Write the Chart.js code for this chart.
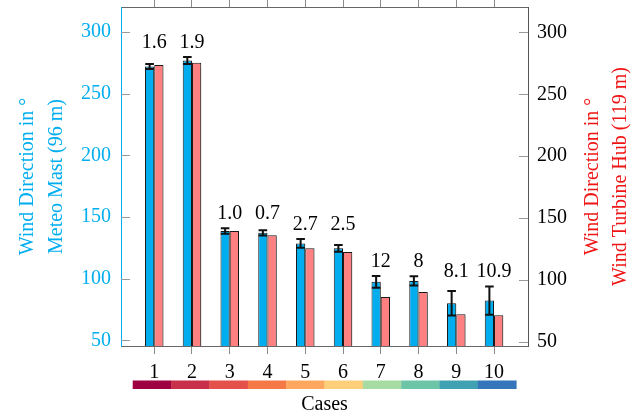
<!DOCTYPE html>
<html><head><meta charset="utf-8">
<script src="https://cdn.jsdelivr.net/npm/chart.js@4/dist/chart.umd.min.js"></script>
<style>html,body{margin:0;padding:0;background:#fff;}canvas{display:block;}</style>
</head><body>
<canvas id="c" width="638" height="415"></canvas>
<script>
// ---- data ----
const cases = [1, 2, 3, 4, 5, 6, 7, 8, 9, 10];
const mastDir = [272.1, 276.9, 138.6, 137.2, 128.6, 124.6, 97.4, 98.2, 80.1, 82.2];
const mastErr = [2.0, 2.8, 2.2, 2.1, 3.5, 2.7, 4.7, 3.7, 9.9, 11.4];
const hubDir = [273.6, 275.5, 139.6, 136.3, 125.8, 122.6, 86.3, 90.3, 72.5, 71.7];
const barLabels = ['1.6', '1.9', '1.0', '0.7', '2.7', '2.5', '12', '8', '8.1', '10.9'];
const yTickValues = [50, 100, 150, 200, 250, 300];
const caseColors = ['#9E0142', '#C8304A', '#E4504A', '#F57847', '#FDA85E', '#FECF7A', '#A6DBA2', '#6CC5A6', '#3FA1B2', '#3575BA'];

const FONT = "'Liberation Serif', 'Times New Roman', serif";
const CYAN = '#00AEEF';
const RED = '#F01515';

const decor = {
  id: 'decor',
  beforeDatasetsDraw(chart) {
    const ctx = chart.ctx;
    ctx.save();
    ctx.shadowColor = 'rgba(0,0,0,0.22)';
    ctx.shadowOffsetX = 2;
    ctx.shadowOffsetY = 1;
    ctx.shadowBlur = 1.5;
  },
  afterDatasetsDraw(chart) {
    const ctx = chart.ctx;
    ctx.restore();
    const xs = chart.scales.x, ys = chart.scales.y, ys1 = chart.scales.y1;
    const ca = chart.chartArea;
    // inward y ticks
    ctx.save();
    ctx.strokeStyle = '#9a9a9a';
    ctx.lineWidth = 1;
    yTickValues.forEach(v => {
      const py = Math.round(ys.getPixelForValue(v)) + 0.5;
      ctx.beginPath(); ctx.moveTo(ca.left, py); ctx.lineTo(ca.left + 9, py); ctx.stroke();
      const py1 = Math.round(ys1.getPixelForValue(v)) + 0.5;
      ctx.beginPath(); ctx.moveTo(ca.right - 9, py1); ctx.lineTo(ca.right, py1); ctx.stroke();
    });
    ctx.restore();
    // error bars
    const meta = chart.getDatasetMeta(0);
    ctx.save();
    ctx.strokeStyle = '#111';
    ctx.lineWidth = 2;
    cases.forEach((c, i) => {
      const bx = meta.data[i].x;
      const top = ys.getPixelForValue(mastDir[i] + mastErr[i]);
      const bot = ys.getPixelForValue(mastDir[i] - mastErr[i]);
      ctx.beginPath();
      ctx.moveTo(bx, top); ctx.lineTo(bx, bot);
      ctx.moveTo(bx - 4.3, top); ctx.lineTo(bx + 4.3, top);
      ctx.moveTo(bx - 4.3, bot); ctx.lineTo(bx + 4.3, bot);
      ctx.stroke();
    });
    ctx.restore();
    // value labels (aligned per pair of cases)
    ctx.save();
    ctx.fillStyle = '#000';
    ctx.font = '20px ' + FONT;
    ctx.textAlign = 'center';
    ctx.textBaseline = 'alphabetic';
    cases.forEach((c, i) => {
      const p = i - (i % 2);
      const a = Math.min(ys.getPixelForValue(mastDir[p] + mastErr[p]), ys.getPixelForValue(mastDir[p + 1] + mastErr[p + 1]));
      ctx.fillText(barLabels[i], xs.getPixelForValue(c), a - 9.5);
    });
    ctx.restore();
  },
  afterDraw(chart) {
    const ctx = chart.ctx;
    const xs = chart.scales.x;
    const ca = chart.chartArea;
    // colour strip for cases
    const start = 0.43, step = 1.016;
    const y0 = ca.bottom + 34.5, h = 8.5;
    caseColors.forEach((col, k) => {
      const a = xs.getPixelForValue(start + k * step);
      const b = xs.getPixelForValue(start + (k + 1) * step);
      ctx.fillStyle = col;
      ctx.fillRect(a, y0, b - a + 0.3, h);
    });
    // right axis title, read bottom-to-top
    ctx.save();
    ctx.fillStyle = RED;
    ctx.font = '20px ' + FONT;
    ctx.textAlign = 'center';
    ctx.textBaseline = 'middle';
    const cy = (ca.top + ca.bottom) / 2;
    [['Wind Direction in °', 64.5], ['Wind Turbine Hub (119 m)', 93]].forEach(([t, dx]) => {
      ctx.save();
      ctx.translate(ca.right + dx, cy);
      ctx.rotate(-Math.PI / 2);
      ctx.fillText(t, 0, 0);
      ctx.restore();
    });
    ctx.restore();
  }
};

const caseTicks = scale => { scale.ticks = cases.map(v => ({ value: v })); };
const yTicks = scale => { scale.ticks = yTickValues.map(v => ({ value: v })); };
const noPad = s => { s.paddingTop = 0; s.paddingBottom = 0; s.paddingLeft = 0; s.paddingRight = 0; };

new Chart(document.getElementById('c'), {
  type: 'bar',
  data: {
    datasets: [
      {
        label: 'Meteo Mast (96 m)',
        data: cases.map((c, i) => ({ x: c, y: mastDir[i] })),
        backgroundColor: CYAN, borderColor: '#1a1a1a', borderWidth: 1,
        yAxisID: 'y', categoryPercentage: 0.49, barPercentage: 1.0
      },
      {
        label: 'Wind Turbine Hub (119 m)',
        data: cases.map((c, i) => ({ x: c, y: hubDir[i] })),
        backgroundColor: '#FF8080', borderColor: '#1a1a1a', borderWidth: 1,
        yAxisID: 'y1', categoryPercentage: 0.49, barPercentage: 1.0
      }
    ]
  },
  options: {
    responsive: false,
    animation: false,
    devicePixelRatio: 1,
    layout: { padding: 0 },
    plugins: { legend: { display: false }, tooltip: { enabled: false } },
    scales: {
      x: {
        type: 'linear', position: 'bottom', min: 0.12, max: 10.9, offset: false,
        afterBuildTicks: caseTicks,
        afterFit: s => { s.height = 69; noPad(s); },
        grid: { offset: false, drawOnChartArea: false, drawTicks: true, tickLength: 8, color: '#8a8a8a' },
        border: { display: true, color: '#666', width: 1 },
        ticks: { color: '#000', font: { family: FONT, size: 20 }, padding: 7, maxRotation: 0, autoSkip: false,
                  callback: v => String(v) },
        title: { display: true, text: 'Cases', color: '#000', font: { family: FONT, size: 20, lineHeight: 1 }, padding: { top: 0, bottom: 0 } }
      },
      xTop: {
        type: 'linear', position: 'top', min: 0.12, max: 10.9, offset: false,
        afterBuildTicks: caseTicks,
        afterFit: s => { s.height = 7; noPad(s); },
        grid: { offset: false, drawOnChartArea: false, drawTicks: true, tickLength: 7, color: '#8a8a8a' },
        border: { display: true, color: '#666', width: 1 },
        ticks: { display: false }
      },
      y: {
        type: 'linear', position: 'left', min: 45.4, max: 320.3, beginAtZero: false,
        afterBuildTicks: yTicks,
        afterFit: s => { s.width = 121; noPad(s); },
        grid: { display: true, drawOnChartArea: false, drawTicks: false },
        border: { display: true, color: CYAN, width: 1 },
        ticks: { color: CYAN, font: { family: FONT, size: 20 }, padding: 10 },
        title: { display: true, text: ['Wind Direction in °', 'Meteo Mast (96 m)'], color: CYAN,
                 font: { family: FONT, size: 20, lineHeight: 1.415 }, padding: { top: 14, bottom: 0 } }
      },
      y1: {
        type: 'linear', position: 'right', min: 46.8, max: 320.5, beginAtZero: false,
        afterBuildTicks: yTicks,
        afterFit: s => { s.width = 110; noPad(s); },
        grid: { display: true, drawOnChartArea: false, drawTicks: false },
        border: { display: true, color: '#555', width: 1 },
        ticks: { color: '#000', font: { family: FONT, size: 20 }, padding: 9 }
      }
    }
  },
  plugins: [decor]
});
</script>
</body></html>
